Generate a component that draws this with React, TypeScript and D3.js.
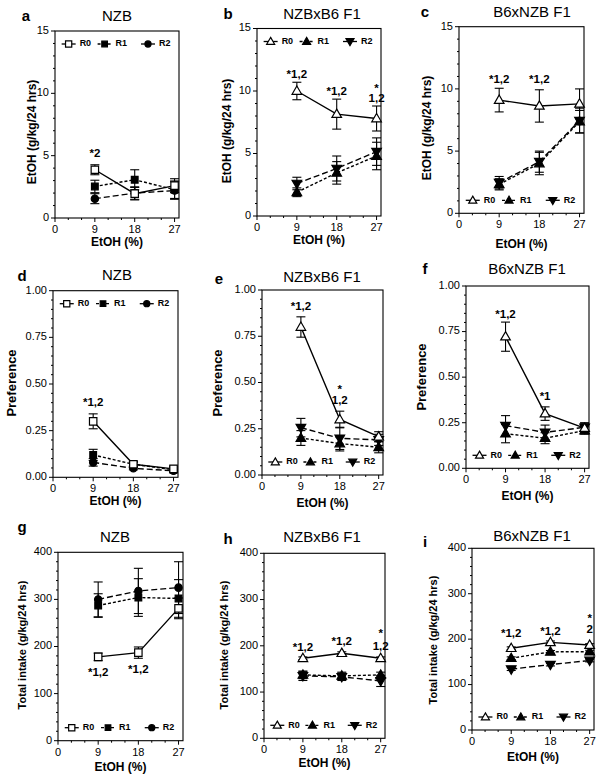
import React from "react";
import * as d3 from "d3";

// ---------- data ----------
const xValues = [9, 18, 27];
const xTickValues = [0, 9, 18, 27];
const seriesNames = ["R0", "R1", "R2"];

// a: NZB EtOH intake
const aR0 = [3.87, 1.95, 2.6];
const aR0Err = [0.4, 0.5, 0.55];
const aR1 = [2.53, 3.07, 2.27];
const aR1Err = [0.5, 0.8, 0.7];
const aR2 = [1.55, 2.0, 2.2];
const aR2Err = [0.4, 0.5, 0.7];
// b: NZBxB6 F1 EtOH intake
const bR0 = [10.0, 8.15, 7.8];
const bR0Err = [0.7, 1.2, 1.0];
const bR1 = [1.9, 3.45, 4.8];
const bR1Err = [0.35, 0.9, 1.1];
const bR2 = [2.6, 3.8, 5.15];
const bR2Err = [0.5, 1.0, 1.1];
// c: B6xNZB F1 EtOH intake
const cR0 = [9.1, 8.63, 8.8];
const cR0Err = [0.95, 1.3, 1.2];
const cR1 = [2.33, 4.0, 7.37];
const cR1Err = [0.45, 0.9, 0.9];
const cR2 = [2.46, 4.15, 7.45];
const cR2Err = [0.5, 0.85, 1.0];
// d: NZB preference
const dR0 = [0.3, 0.07, 0.045];
const dR0Err = [0.04, 0.015, 0.015];
const dR1 = [0.12, 0.07, 0.04];
const dR1Err = [0.03, 0.01, 0.01];
const dR2 = [0.08, 0.048, 0.035];
const dR2Err = [0.02, 0.008, 0.008];
// e: NZBxB6 F1 preference
const eR0 = [0.8, 0.3, 0.207];
const eR0Err = [0.055, 0.045, 0.027];
const eR1 = [0.2, 0.17, 0.15];
const eR1Err = [0.04, 0.04, 0.03];
const eR2 = [0.256, 0.198, 0.19];
const eR2Err = [0.05, 0.06, 0.03];
// f: B6xNZB F1 preference
const fR0 = [0.722, 0.3, 0.22];
const fR0Err = [0.08, 0.037, 0.027];
const fR1 = [0.19, 0.165, 0.207];
const fR1Err = [0.05, 0.03, 0.02];
const fR2 = [0.234, 0.197, 0.225];
const fR2Err = [0.055, 0.04, 0.025];
// g: NZB total intake
const gR0 = [178, 187, 281];
const gR0Err = [8, 12, 22];
const gR1 = [287, 304, 302];
const gR1Err = [25, 40, 40];
const gR2 = [300, 318, 325];
const gR2Err = [37, 48, 55];
// h: NZBxB6 F1 total intake
const hR0 = [173, 184, 173];
const hR0Err = [3, 3, 3];
const hR1 = [137, 135, 137];
const hR1Err = [8, 8, 6];
const hR2 = [135, 133, 124];
const hR2Err = [10, 8, 12];
// i: B6xNZB F1 total intake
const iR0 = [180, 193, 187];
const iR0Err = [3, 3, 3];
const iR1 = [158, 172, 172.5];
const iR1Err = [3, 3, 3];
const iR2 = [134, 144, 153];
const iR2Err = [3, 3, 3];

// significance annotations: [x, y, text]
const aNotes: [number, number, string][] = [[9, 5.1, "*2"]];
const bNotes: [number, number, string][] = [[9, 11.3, "*1,2"], [18, 9.9, "*1,2"], [27, 10.2, "*"], [27, 9.35, "1,2"]];
const cNotes: [number, number, string][] = [[9, 10.7, "*1,2"], [18, 10.7, "*1,2"]];
const dNotes: [number, number, string][] = [[9, 0.4, "*1,2"]];
const eNotes: [number, number, string][] = [[9, 0.91, "*1,2"], [18, 0.46, "*"], [18, 0.4, "1,2"]];
const fNotes: [number, number, string][] = [[9, 0.84, "*1,2"], [18, 0.39, "*1"]];
const gNotes: [number, number, string][] = [[9, 143, "*1,2"], [18, 150, "*1,2"]];
const hNotes: [number, number, string][] = [[9, 196, "*1,2"], [18, 209, "*1,2"], [27, 225, "*"], [27, 198, "1,2"]];
const iNotes: [number, number, string][] = [[9, 211, "*1,2"], [18, 216, "*1,2"], [27, 244, "*"], [27, 220, "2"]];

const etohTicks = [0, 5, 10, 15];
const prefTicks = [0, 0.25, 0.5, 0.75, 1.0];
const totalTicks = [0, 100, 200, 300, 400];

// ---------- config ----------
const FONT = "'Liberation Sans', Arial, Helvetica, sans-serif";

type Kind = "sqOpen" | "sqFill" | "circle" | "triOpen" | "triFill" | "triDown";
const nzbMarkers: Kind[] = ["sqOpen", "sqFill", "circle"];
const f1Markers: Kind[] = ["triOpen", "triFill", "triDown"];
const dashes = [null, "3,2", "6,3"];

type PanelCfg = {
  letter: string; title: string;
  left: number; right: number; top: number; bottom: number;
  yMax: number; yTicks: number[]; yMinor: number; yFmt: (v: number) => string;
  yLabel: string; yLabelSize: number; yLabelX: number; yLabelY: number;
  xLabelY: number; titleX: number; titleY: number; letterX: number; letterY: number;
  means: number[][]; errs: number[][]; markers: Kind[]; notes: [number, number, string][];
  legendTop: boolean;
};

const fmtInt = (v: number) => String(v);
const fmt2 = (v: number) => v.toFixed(2);
const etohLab = "EtOH (g/kg/24 hrs)";
const totLab = "Total intake (g/kg/24 hrs)";

const panels: PanelCfg[] = [
  { letter: "a", title: "NZB", left: 55, right: 179, top: 31, bottom: 218, yMax: 15, yTicks: etohTicks, yMinor: 1, yFmt: fmtInt,
    yLabel: etohLab, yLabelSize: 12, yLabelX: 33, yLabelY: 132, xLabelY: 243, titleX: 117, titleY: 17, letterX: 26, letterY: 17,
    means: [aR0, aR1, aR2], errs: [aR0Err, aR1Err, aR2Err], markers: nzbMarkers, notes: aNotes, legendTop: true },
  { letter: "b", title: "NZBxB6 F1", left: 257, right: 381, top: 28.5, bottom: 216, yMax: 15, yTicks: etohTicks, yMinor: 1, yFmt: fmtInt,
    yLabel: etohLab, yLabelSize: 12, yLabelX: 228, yLabelY: 131, xLabelY: 241, titleX: 322, titleY: 15, letterX: 228, letterY: 15,
    means: [bR0, bR1, bR2], errs: [bR0Err, bR1Err, bR2Err], markers: f1Markers, notes: bNotes, legendTop: true },
  { letter: "c", title: "B6xNZB F1", left: 459, right: 584, top: 26.7, bottom: 213.3, yMax: 15, yTicks: etohTicks, yMinor: 1, yFmt: fmtInt,
    yLabel: etohLab, yLabelSize: 12, yLabelX: 428, yLabelY: 128, xLabelY: 245, titleX: 532, titleY: 13, letterX: 425, letterY: 13,
    means: [cR0, cR1, cR2], errs: [cR0Err, cR1Err, cR2Err], markers: f1Markers, notes: cNotes, legendTop: false },
  { letter: "d", title: "NZB", left: 53, right: 178, top: 290.7, bottom: 477.3, yMax: 1, yTicks: prefTicks, yMinor: 0.05, yFmt: fmt2,
    yLabel: "Preference", yLabelSize: 13, yLabelX: 13, yLabelY: 383, xLabelY: 502, titleX: 117, titleY: 276, letterX: 22, letterY: 277,
    means: [dR0, dR1, dR2], errs: [dR0Err, dR1Err, dR2Err], markers: nzbMarkers, notes: dNotes, legendTop: true },
  { letter: "e", title: "NZBxB6 F1", left: 262, right: 383, top: 290, bottom: 475, yMax: 1, yTicks: prefTicks, yMinor: 0.05, yFmt: fmt2,
    yLabel: "Preference", yLabelSize: 13, yLabelX: 219, yLabelY: 383, xLabelY: 504, titleX: 322, titleY: 278, letterX: 219, letterY: 280,
    means: [eR0, eR1, eR2], errs: [eR0Err, eR1Err, eR2Err], markers: f1Markers, notes: eNotes, legendTop: false },
  { letter: "f", title: "B6xNZB F1", left: 466, right: 589, top: 286, bottom: 468.3, yMax: 1, yTicks: prefTicks, yMinor: 0.05, yFmt: fmt2,
    yLabel: "Preference", yLabelSize: 13, yLabelX: 423, yLabelY: 377, xLabelY: 497, titleX: 527, titleY: 270, letterX: 425, letterY: 270,
    means: [fR0, fR1, fR2], errs: [fR0Err, fR1Err, fR2Err], markers: f1Markers, notes: fNotes, legendTop: false },
  { letter: "g", title: "NZB", left: 58, right: 183, top: 552.3, bottom: 740.7, yMax: 400, yTicks: totalTicks, yMinor: 20, yFmt: fmtInt,
    yLabel: totLab, yLabelSize: 11, yLabelX: 23, yLabelY: 645, xLabelY: 768, titleX: 115, titleY: 538, letterX: 22, letterY: 528,
    means: [gR0, gR1, gR2], errs: [gR0Err, gR1Err, gR2Err], markers: nzbMarkers, notes: gNotes, legendTop: false },
  { letter: "h", title: "NZBxB6 F1", left: 264, right: 385, top: 553.3, bottom: 738.3, yMax: 400, yTicks: totalTicks, yMinor: 20, yFmt: fmtInt,
    yLabel: totLab, yLabelSize: 11, yLabelX: 225, yLabelY: 645, xLabelY: 764, titleX: 322, titleY: 538, letterX: 228, letterY: 540,
    means: [hR0, hR1, hR2], errs: [hR0Err, hR1Err, hR2Err], markers: f1Markers, notes: hNotes, legendTop: false },
  { letter: "i", title: "B6xNZB F1", left: 472, right: 594, top: 548.3, bottom: 730, yMax: 400, yTicks: totalTicks, yMinor: 20, yFmt: fmtInt,
    yLabel: totLab, yLabelSize: 11, yLabelX: 434, yLabelY: 640, xLabelY: 758, titleX: 532, titleY: 537, letterX: 425, letterY: 543,
    means: [iR0, iR1, iR2], errs: [iR0Err, iR1Err, iR2Err], markers: f1Markers, notes: iNotes, legendTop: false },
];

function Marker({ kind, x, y, scale = 1 }: { kind: Kind; x: number; y: number; scale?: number }) {
  const open = kind === "sqOpen" || kind === "triOpen";
  let type: d3.SymbolType = d3.symbolSquare;
  let size = 45;
  let rot = 0;
  let dy = 0;
  if (kind === "sqOpen") size = 55;
  if (kind === "circle") { type = d3.symbolCircle; size = 42; }
  if (kind === "triOpen" || kind === "triFill") { type = d3.symbolTriangle; size = 40; dy = 0.5; }
  if (kind === "triDown") { type = d3.symbolTriangle; size = 40; rot = 180; dy = -0.5; }
  const p = d3.symbol().type(type).size(size * scale)() || "";
  return (
    <path d={p} transform={`translate(${x},${y + dy}) rotate(${rot})`}
      fill={open ? "#fff" : "#000"} stroke="#000" strokeWidth={1.2} />
  );
}

function Panel({ cfg }: { cfg: PanelCfg }) {
  const x = d3.scaleLinear().domain([0, 28]).range([cfg.left, cfg.right]);
  const y = d3.scaleLinear().domain([0, cfg.yMax]).range([cfg.bottom, cfg.top]);
  const line = d3.line<number>().x((_, i) => x(xValues[i])).y((d) => y(d));
  const xMinor = d3.range(0, 28, 3).filter((v) => !xTickValues.includes(v));
  const nMinor = Math.round(cfg.yMax / cfg.yMinor);
  const yMinor = d3.range(0, nMinor + 1).map((k) => k * cfg.yMinor)
    .filter((v) => !cfg.yTicks.some((t) => Math.abs(t - v) < 1e-9));
  const w = cfg.right - cfg.left;
  const legY = cfg.legendTop ? cfg.top + 13 : cfg.bottom - 13;
  const legFrac = [0.11, 0.4, 0.75];
  const order = [2, 1, 0];
  return (
    <g fontFamily={FONT}>
      <text x={cfg.letterX} y={cfg.letterY} fontSize={15} fontWeight="bold" textAnchor="middle" dominantBaseline="middle">{cfg.letter}</text>
      <text x={cfg.titleX} y={cfg.titleY} fontSize={15} textAnchor="middle" dominantBaseline="middle">{cfg.title}</text>
      <rect x={cfg.left} y={cfg.top} width={w} height={cfg.bottom - cfg.top} fill="none" stroke="#000" strokeWidth={1.1} />
      {/* y ticks */}
      {cfg.yTicks.map((t) => (
        <g key={"yt" + t}>
          <line x1={cfg.left - 4} x2={cfg.left} y1={y(t)} y2={y(t)} stroke="#000" />
          <text x={cfg.left - 6} y={y(t)} fontSize={11} textAnchor="end" dominantBaseline="middle">{cfg.yFmt(t)}</text>
        </g>
      ))}
      {yMinor.map((t) => (
        <line key={"ym" + t} x1={cfg.left - 2} x2={cfg.left} y1={y(t)} y2={y(t)} stroke="#000" />
      ))}
      {/* x ticks */}
      {xTickValues.map((t) => (
        <g key={"xt" + t}>
          <line x1={x(t)} x2={x(t)} y1={cfg.bottom} y2={cfg.bottom + 4} stroke="#000" />
          <text x={x(t)} y={cfg.bottom + 12} fontSize={11} textAnchor="middle" dominantBaseline="middle">{t}</text>
        </g>
      ))}
      {xMinor.map((t) => (
        <line key={"xm" + t} x1={x(t)} x2={x(t)} y1={cfg.bottom} y2={cfg.bottom + 2} stroke="#000" />
      ))}
      <text x={(cfg.left + cfg.right) / 2} y={cfg.xLabelY} fontSize={12} fontWeight="bold" textAnchor="middle" dominantBaseline="middle">EtOH (%)</text>
      <text transform={`translate(${cfg.yLabelX},${cfg.yLabelY}) rotate(-90)`} fontSize={cfg.yLabelSize} fontWeight="bold" textAnchor="middle" dominantBaseline="middle">{cfg.yLabel}</text>
      {/* series */}
      {order.map((s) => (
        <g key={"s" + s}>
          <path d={line(cfg.means[s]) || ""} fill="none" stroke="#000" strokeWidth={1.4}
            strokeDasharray={dashes[s] || undefined} />
          {cfg.means[s].map((m, i) => {
            const cx = x(xValues[i]);
            const e = cfg.errs[s][i];
            return (
              <g key={i} stroke="#000" strokeWidth={1.1}>
                <line x1={cx} x2={cx} y1={y(m - e)} y2={y(m + e)} />
                <line x1={cx - 4.5} x2={cx + 4.5} y1={y(m - e)} y2={y(m - e)} />
                <line x1={cx - 4.5} x2={cx + 4.5} y1={y(m + e)} y2={y(m + e)} />
              </g>
            );
          })}
        </g>
      ))}
      {order.map((s) => (
        <g key={"m" + s}>
          {cfg.means[s].map((m, i) => (
            <Marker key={i} kind={cfg.markers[s]} x={x(xValues[i])} y={y(m)} />
          ))}
        </g>
      ))}
      {cfg.notes.map(([nx, ny, t], k) => (
        <text key={"n" + k} x={x(nx)} y={y(ny)} fontSize={11.5} fontWeight="bold" textAnchor="middle" dominantBaseline="middle">{t}</text>
      ))}
      {/* legend */}
      {seriesNames.map((name, s) => {
        const lx = cfg.left + legFrac[s] * w;
        return (
          <g key={"l" + s}>
            <line x1={lx - 7} x2={lx + 7} y1={legY} y2={legY} stroke="#000" strokeWidth={1.3}
              strokeDasharray={s === 1 ? "3,2" : undefined} />
            <Marker kind={cfg.markers[s]} x={lx} y={legY} scale={0.7} />
            <text x={lx + 11} y={legY} fontSize={9} fontWeight="bold" dominantBaseline="middle">{name}</text>
          </g>
        );
      })}
    </g>
  );
}

export default function App() {
  return (
    <svg width={602} height={784} style={{ display: "block", position: "absolute", left: 0, top: 0, background: "#fff" }}>
      <rect width={602} height={784} fill="#fff" />
      {panels.map((p) => <Panel key={p.letter} cfg={p} />)}
    </svg>
  );
}
